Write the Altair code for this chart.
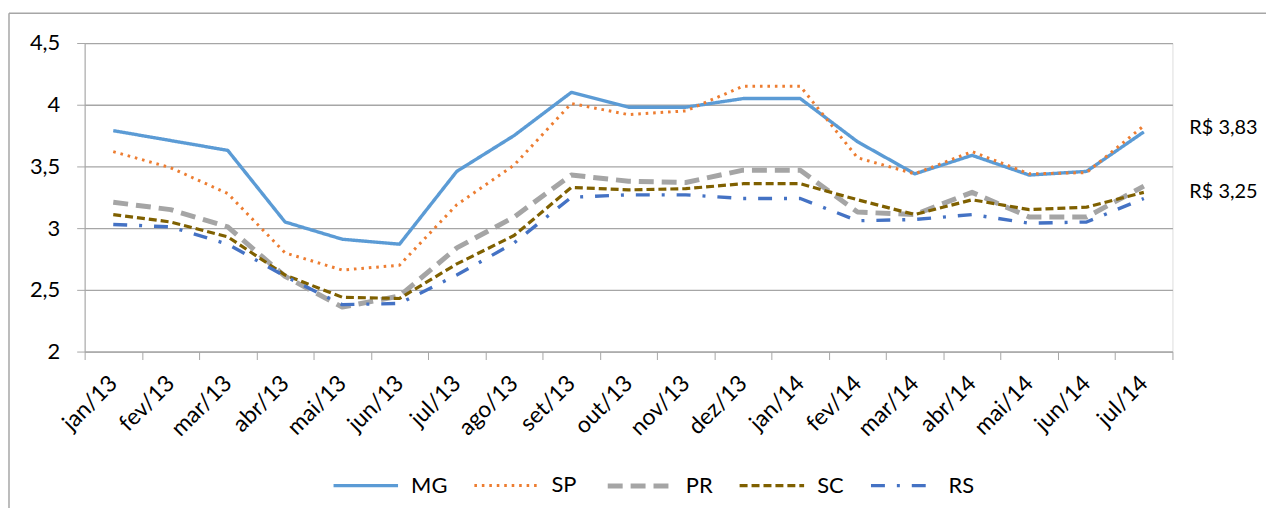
import altair as alt
import pandas as pd

months = ["jan/13", "fev/13", "mar/13", "abr/13", "mai/13", "jun/13", "jul/13",
          "ago/13", "set/13", "out/13", "nov/13", "dez/13", "jan/14", "fev/14",
          "mar/14", "abr/14", "mai/14", "jun/14", "jul/14"]
series = ["MG", "SP", "PR", "SC", "RS"]

mg = [3.79, 3.71, 3.63, 3.05, 2.91, 2.87, 3.46, 3.75, 4.10, 3.98, 3.98, 4.05, 4.05, 3.70, 3.44, 3.59, 3.43, 3.46, 3.78]
sp = [3.62, 3.49, 3.28, 2.80, 2.66, 2.70, 3.19, 3.51, 4.01, 3.92, 3.95, 4.15, 4.15, 3.57, 3.44, 3.62, 3.44, 3.45, 3.83]
pr = [3.21, 3.15, 3.01, 2.61, 2.36, 2.45, 2.84, 3.09, 3.43, 3.38, 3.37, 3.47, 3.47, 3.13, 3.11, 3.29, 3.09, 3.09, 3.34]
sc = [3.11, 3.05, 2.93, 2.62, 2.44, 2.43, 2.71, 2.94, 3.33, 3.31, 3.32, 3.36, 3.36, 3.23, 3.11, 3.23, 3.15, 3.17, 3.29]
rs = [3.03, 3.01, 2.87, 2.61, 2.38, 2.39, 2.62, 2.88, 3.25, 3.27, 3.27, 3.24, 3.24, 3.06, 3.07, 3.11, 3.04, 3.05, 3.24]

colors = ["#5B9BD5", "#ED7D31", "#A5A5A5", "#7F6000", "#4472C4"]
dashes = [[1, 0], [2.6, 4.9], [15, 8], [8, 4], [14, 12, 3, 12]]
widths = [3.4, 3, 5, 3.2, 3.4]

annot_labels = ["R$ 3,83", "R$ 3,25"]
annot_values = [3.83, 3.25]
annot_dy = [2, -5]

rows = []
for name, vals in zip(series, [mg, sp, pr, sc, rs]):
    for m, v in zip(months, vals):
        rows.append({"month": m, "series": name, "value": v})
df = pd.DataFrame(rows)

FONT = "Lato"
GRAY = "#A6A6A6"

leg = alt.Legend(title=None, orient="none", legendX=248, legendY=410,
                 direction="horizontal", symbolType="stroke", symbolSize=4200,
                 labelFontSize=22, labelFont=FONT, labelColor="#000000",
                 labelOffset=11, columnPadding=20)

x_enc = alt.X("month:N", sort=months, bandPosition=0.5,
              scale=alt.Scale(type="band", paddingInner=0, paddingOuter=0),
              axis=alt.Axis(title=None, labelAngle=-45, labelAlign="right",
                            labelBaseline="middle", tickBand="extent", tickSize=8,
                            labelPadding=20, labelFontSize=23, labelFont=FONT,
                            labelColor="#000000", domainColor=GRAY, tickColor=GRAY,
                            grid=False))
y_enc = alt.Y("value:Q", scale=alt.Scale(domain=[2, 4.5], nice=False, zero=False),
              axis=alt.Axis(title=None, values=[2, 2.5, 3, 3.5, 4, 4.5],
                            labelExpr="replace(format(datum.value, '.1~f'), '.', ',')",
                            tickSize=8, labelPadding=17, labelFontSize=22, labelFont=FONT,
                            labelColor="#000000", domainColor=GRAY, tickColor=GRAY,
                            gridColor=GRAY, gridWidth=1.3))

lines = alt.Chart(df).mark_line(strokeJoin="round").encode(
    x=x_enc,
    y=y_enc,
    color=alt.Color("series:N", sort=series,
                    scale=alt.Scale(domain=series, range=colors), legend=leg),
    strokeDash=alt.StrokeDash("series:N", sort=series,
                              scale=alt.Scale(domain=series, range=dashes), legend=leg),
    strokeWidth=alt.StrokeWidth("series:N", sort=series,
                                scale=alt.Scale(type="ordinal", domain=series, range=widths),
                                legend=leg),
    order=alt.Order("order:Q"),
).transform_calculate(order="indexof(['RS','SC','PR','SP','MG'], datum.series)")

layers = [lines]
for lab, val, dy in zip(annot_labels, annot_values, annot_dy):
    adf = pd.DataFrame({"label": [lab], "v": [val]})
    layers.append(
        alt.Chart(adf).mark_text(align="left", baseline="middle", fontSize=20,
                                 font=FONT, color="#000000", dy=dy).encode(
            x=alt.value(1110), y=alt.Y("v:Q"), text="label:N")
    )

frame = pd.DataFrame({"a": [0]})
left_border = alt.Chart(frame).mark_rule(color=GRAY, strokeWidth=1.5).encode(
    x=alt.value(-76), y=alt.value(-30), y2=alt.value(480))
top_border = alt.Chart(frame).mark_rule(color=GRAY, strokeWidth=1.5).encode(
    x=alt.value(-76), x2=alt.value(1196), y=alt.value(-30))
layers += [left_border, top_border]

chart = alt.layer(*layers).properties(
    width=1093, height=310,
    autosize=alt.AutoSizeParams(type="none"),
    padding={"left": 77, "top": 34, "right": 94, "bottom": 156},
).configure_view(stroke=None).configure(background="white")

chart.save("out.html", embed_options={"renderer": "svg", "actions": False})
